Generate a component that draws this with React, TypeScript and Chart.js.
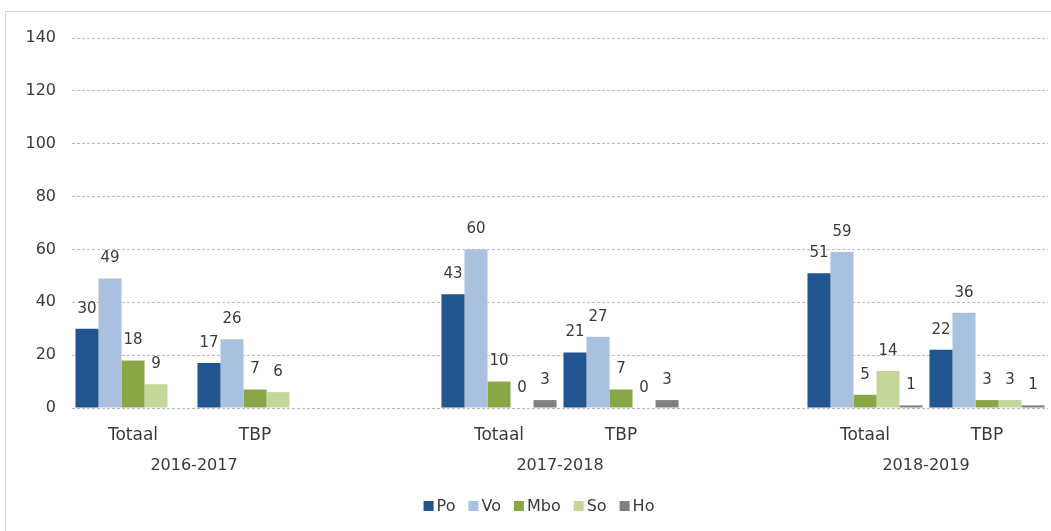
import { useEffect, useRef } from "react";
import { Chart, registerables } from "chart.js";

Chart.register(...registerables);

const categories = ["Totaal", "TBP", "", "Totaal", "TBP", "", "Totaal", "TBP"];
const years = ["2016-2017", "2017-2018", "2018-2019"];
const seriesNames = ["Po", "Vo", "Mbo", "So", "Ho"];
const po = [30, 17, null, 43, 21, null, 51, 22];
const vo = [49, 26, null, 60, 27, null, 59, 36];
const mbo = [18, 7, null, 10, 7, null, 5, 3];
const so = [9, 6, null, 0, 0, null, 14, 3];
const ho = [null, null, null, 3, 3, null, 1, 1];
const seriesColors = ["#215592", "#a9c1df", "#89a845", "#c4d79b", "#808080"];
const yMax = 140;
const yStep = 20;

const FONT = "'DejaVu Sans', sans-serif";
const TEXT = "#3a3a3a";

export default function App() {
  const ref = useRef<HTMLCanvasElement>(null);

  useEffect(() => {
    if (!ref.current) return;
    const values = [po, vo, mbo, so, ho];

    const extrasPlugin = {
      id: "extras",
      afterDatasetsDraw(chart: any) {
        const ctx = chart.ctx;
        ctx.save();
        ctx.fillStyle = TEXT;
        ctx.textAlign = "center";
        ctx.textBaseline = "middle";
        // value labels
        ctx.font = `15px ${FONT}`;
        chart.data.datasets.forEach((ds: any, i: number) => {
          const meta = chart.getDatasetMeta(i);
          meta.data.forEach((bar: any, j: number) => {
            const v = ds.data[j];
            if (v === null || v === undefined) return;
            ctx.fillText(String(v), bar.x, bar.y - 20);
          });
        });
        // year group labels
        const xs = chart.scales.x;
        ctx.font = `16px ${FONT}`;
        years.forEach((y, k) => {
          const a = xs.getPixelForValue(k * 3);
          const b = xs.getPixelForValue(k * 3 + 1);
          ctx.fillText(y, (a + b) / 2, 466);
        });
        // legend
        ctx.textAlign = "left";
        const box = 10;
        const gap = 3;
        const spacing = 13;
        const widths = chart.data.datasets.map(
          (ds: any) => box + gap + ctx.measureText(ds.label).width
        );
        const total =
          widths.reduce((s: number, w: number) => s + w, 0) +
          spacing * (widths.length - 1);
        let x = 539 - total / 2;
        const cy = 506;
        chart.data.datasets.forEach((ds: any, i: number) => {
          ctx.fillStyle = ds.backgroundColor;
          ctx.fillRect(x, cy - box / 2, box, box);
          ctx.fillStyle = TEXT;
          ctx.fillText(ds.label, x + box + gap, cy + 1);
          x += widths[i] + spacing;
        });
        ctx.restore();
      },
    };

    const chart = new Chart(ref.current, {
      type: "bar",
      data: {
        labels: categories,
        datasets: seriesNames.map((name, i) => ({
          label: name,
          data: values[i] as any,
          backgroundColor: seriesColors[i],
          borderWidth: 0,
          categoryPercentage: 0.943,
          barPercentage: 1,
        })),
      },
      options: {
        responsive: false,
        animation: false,
        layout: { padding: { top: 38, right: 3, left: 0, bottom: 0 } },
        plugins: {
          legend: { display: false },
          tooltip: { enabled: false },
        },
        scales: {
          x: {
            grid: { display: false },
            border: { display: false },
            ticks: {
              color: TEXT,
              font: { family: FONT, size: 17 },
              padding: 9,
              maxRotation: 0,
              autoSkip: false,
            },
            afterFit: (s: any) => {
              s.height = 123;
            },
          },
          y: {
            min: 0,
            max: yMax,
            grid: { color: "#bdbdbd", lineWidth: 1, drawTicks: false },
            border: { display: false, dash: [3, 2] },
            ticks: {
              stepSize: yStep,
              color: TEXT,
              font: { family: FONT, size: 16 },
              padding: 16,
            },
            afterFit: (s: any) => {
              s.width = 72;
            },
          },
        },
      },
      plugins: [extrasPlugin],
    });
    return () => chart.destroy();
  }, []);

  return (
    <div
      style={{
        position: "absolute",
        left: 0,
        top: 0,
        width: 1051,
        height: 531,
        overflow: "hidden",
        background: "#ffffff",
      }}
    >
      <div
        style={{
          position: "absolute",
          left: 5,
          top: 11,
          width: 2000,
          height: 2000,
          border: "1.5px solid #d4d4d4",
        }}
      />
      <canvas
        ref={ref}
        width={1051}
        height={531}
        style={{ position: "absolute", left: 0, top: 0, width: 1051, height: 531 }}
      />
    </div>
  );
}
